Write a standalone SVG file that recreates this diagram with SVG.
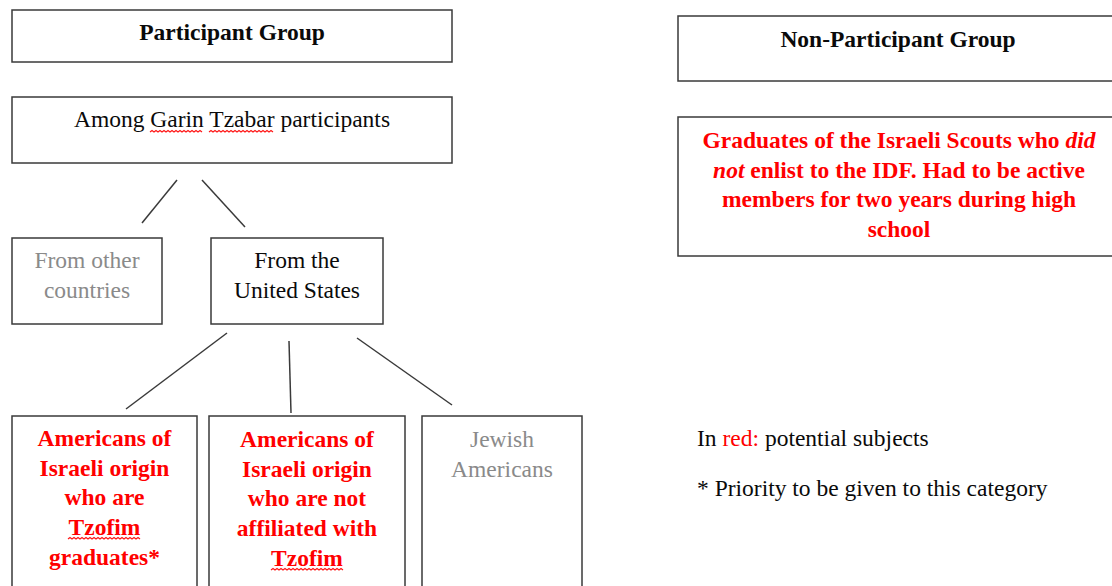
<svg xmlns="http://www.w3.org/2000/svg" width="1112" height="586" viewBox="0 0 1112 586">
<style>
  .box{fill:#fff;stroke:#3a3a3a;stroke-width:1.5}
  .t{font-family:"Liberation Serif","Times New Roman",serif;font-size:23.5px;text-anchor:middle;fill:#0a0a0a}
  .b{font-weight:bold}
  .red{fill:#ff0000}
  .grey{fill:#8a8a8a}
  .conn line{stroke:#3a3a3a;stroke-width:1.5}
  .wavy{fill:none;stroke:#ff1a1a;stroke-width:1.2}
</style>
<rect width="1112" height="586" fill="#fff"/>
<g id="connectors" class="conn">
  <line x1="177" y1="180" x2="142" y2="223"/>
  <line x1="202" y1="180" x2="245" y2="227"/>
  <line x1="227" y1="333" x2="126" y2="409"/>
  <line x1="289" y1="341" x2="291" y2="413"/>
  <line x1="357" y1="338" x2="452" y2="405"/>
</g>
<g id="participant-group">
  <rect class="box" x="12" y="10" width="440" height="52"/>
  <text class="t b" x="232" y="40">Participant Group</text>
</g>
<g id="among-garin">
  <rect class="box" x="12" y="97" width="440" height="66"/>
  <text class="t" x="232" y="127">Among Garin Tzabar participants</text>
  <path class="wavy" d="M150,132 l2,-1.5 l2,1.5 l2,-1.5 l2,1.5 l2,-1.5 l2,1.5 l2,-1.5 l2,1.5 l2,-1.5 l2,1.5 l2,-1.5 l2,1.5 l2,-1.5 l2,1.5 l2,-1.5 l2,1.5 l2,-1.5 l2,1.5 l2,-1.5 l2,1.5 l2,-1.5 l2,1.5 l2,-1.5 l2,1.5 l2,-1.5 l2,1.5"/>
  <path class="wavy" d="M209,132 l2,-1.5 l2,1.5 l2,-1.5 l2,1.5 l2,-1.5 l2,1.5 l2,-1.5 l2,1.5 l2,-1.5 l2,1.5 l2,-1.5 l2,1.5 l2,-1.5 l2,1.5 l2,-1.5 l2,1.5 l2,-1.5 l2,1.5 l2,-1.5 l2,1.5 l2,-1.5 l2,1.5 l2,-1.5 l2,1.5 l2,-1.5 l2,1.5 l2,-1.5 l2,1.5 l2,-1.5 l2,1.5 l2,-1.5 l2,1.5"/>
</g>
<g id="other-countries">
  <rect class="box" x="12" y="238" width="150" height="86"/>
  <text class="t grey" x="87" y="268">From other</text>
  <text class="t grey" x="87" y="298">countries</text>
</g>
<g id="united-states">
  <rect class="box" x="211" y="238" width="172" height="86"/>
  <text class="t" x="297" y="268">From the</text>
  <text class="t" x="297" y="298">United States</text>
</g>
<g id="tzofim-graduates">
  <rect class="box" x="12" y="416" width="185" height="190"/>
  <text class="t b red" x="104.5" y="446">Americans of</text>
  <text class="t b red" x="104.5" y="476">Israeli origin</text>
  <text class="t b red" x="104.5" y="505">who are</text>
  <text class="t b red" x="104.5" y="535">Tzofim</text>
  <text class="t b red" x="104.5" y="565">graduates*</text>
  <path class="wavy" d="M68,539 l2,-1.5 l2,1.5 l2,-1.5 l2,1.5 l2,-1.5 l2,1.5 l2,-1.5 l2,1.5 l2,-1.5 l2,1.5 l2,-1.5 l2,1.5 l2,-1.5 l2,1.5 l2,-1.5 l2,1.5 l2,-1.5 l2,1.5 l2,-1.5 l2,1.5 l2,-1.5 l2,1.5 l2,-1.5 l2,1.5 l2,-1.5 l2,1.5 l2,-1.5 l2,1.5 l2,-1.5 l2,1.5 l2,-1.5 l2,1.5 l2,-1.5 l2,1.5 l2,-1.5 l2,1.5"/>
</g>
<g id="not-affiliated">
  <rect class="box" x="209" y="416" width="196" height="190"/>
  <text class="t b red" x="307" y="447">Americans of</text>
  <text class="t b red" x="307" y="477">Israeli origin</text>
  <text class="t b red" x="307" y="506">who are not</text>
  <text class="t b red" x="307" y="536">affiliated with</text>
  <text class="t b red" x="307" y="566">Tzofim</text>
  <path class="wavy" d="M271,570 l2,-1.5 l2,1.5 l2,-1.5 l2,1.5 l2,-1.5 l2,1.5 l2,-1.5 l2,1.5 l2,-1.5 l2,1.5 l2,-1.5 l2,1.5 l2,-1.5 l2,1.5 l2,-1.5 l2,1.5 l2,-1.5 l2,1.5 l2,-1.5 l2,1.5 l2,-1.5 l2,1.5 l2,-1.5 l2,1.5 l2,-1.5 l2,1.5 l2,-1.5 l2,1.5 l2,-1.5 l2,1.5 l2,-1.5 l2,1.5 l2,-1.5 l2,1.5 l2,-1.5 l2,1.5"/>
</g>
<g id="jewish-americans">
  <rect class="box" x="422" y="416" width="160" height="190"/>
  <text class="t grey" x="502" y="447">Jewish</text>
  <text class="t grey" x="502" y="477">Americans</text>
</g>
<g id="non-participant-group">
  <rect class="box" x="678" y="16" width="440" height="65"/>
  <text class="t b" x="898" y="47">Non-Participant Group</text>
</g>
<g id="scouts-graduates">
  <rect class="box" x="678" y="117" width="440" height="139"/>
  <text class="t b red" x="899" y="148">Graduates of the Israeli Scouts who <tspan font-style="italic">did</tspan></text>
  <text class="t b red" x="899" y="177.5"><tspan font-style="italic">not</tspan> enlist to the IDF. Had to be active</text>
  <text class="t b red" x="899" y="207">members for two years during high</text>
  <text class="t b red" x="899" y="236.5">school</text>
</g>
<g id="legend">
  <text class="t" x="697" y="446" style="text-anchor:start">In <tspan fill="#ff0000">red:</tspan> potential subjects</text>
  <text class="t" x="697" y="496" style="text-anchor:start">* Priority to be given to this category</text>
</g>
</svg>
